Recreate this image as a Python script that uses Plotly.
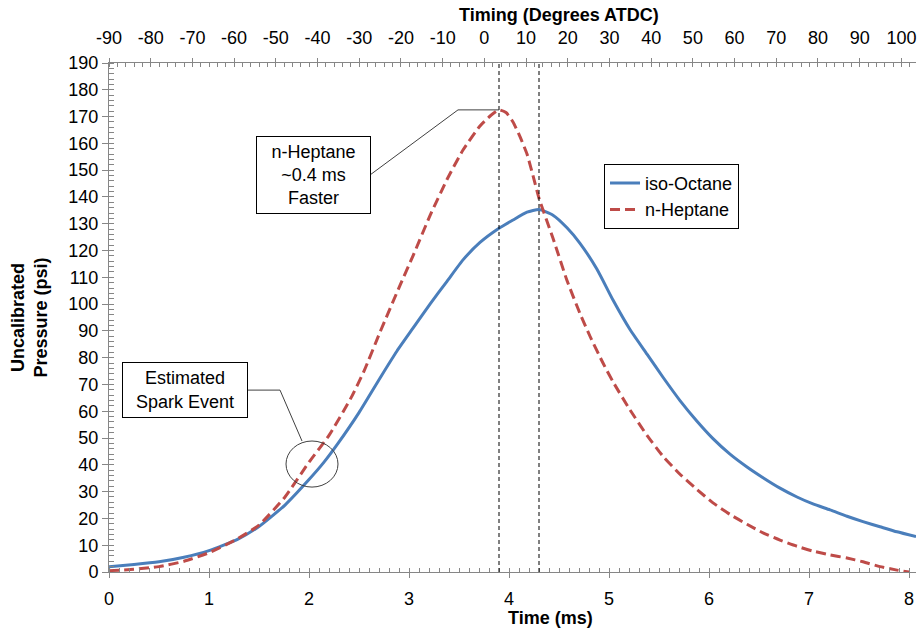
import numpy as np
import plotly.graph_objects as go

# ---------------- data ----------------
time_iso = [0.0, 0.25, 0.5, 0.75, 1.0, 1.29, 1.5, 1.76, 2.0, 2.15, 2.29, 2.5, 2.72, 2.88,
            3.04, 3.21, 3.38, 3.54, 3.71, 3.9, 4.04, 4.18, 4.3, 4.44, 4.58, 4.71,
            4.88, 5.04, 5.21, 5.38, 5.54, 5.71, 5.88, 6.04, 6.21, 6.38, 6.54, 6.71,
            6.88, 7.04, 7.21, 7.38, 7.54, 7.71, 7.88, 8.07]
p_iso = [2.0, 2.8, 3.8, 5.5, 8.0, 12.3, 17.0, 25.0, 34.5, 41.0, 48.0, 59.5, 73.0, 82.5,
         91.0, 100.0, 108.5, 116.5, 123.0, 128.3, 131.4, 134.3, 135.3, 133.2, 128.5, 122.7,
         113.0, 101.5, 90.5, 81.3, 72.7, 64.0, 56.3, 49.8, 44.0, 39.2, 35.2, 31.3,
         28.0, 25.4, 23.2, 20.8, 18.8, 16.9, 15.0, 13.2]

time_hep = [0.0, 0.25, 0.5, 0.75, 1.0, 1.29, 1.5, 1.76, 2.0, 2.2, 2.42, 2.55, 2.71,
            2.91, 3.04, 3.21, 3.38, 3.54, 3.71, 3.82, 3.9, 3.97, 4.04, 4.11, 4.18, 4.24,
            4.3, 4.44, 4.58, 4.71, 4.81, 4.94, 5.04, 5.21, 5.38, 5.54, 5.71, 5.88, 6.04,
            6.21, 6.38, 6.54, 6.71, 6.88, 7.04, 7.21, 7.38, 7.54, 7.71, 7.88, 8.0]
p_hep = [0.5, 1.0, 2.0, 4.0, 7.2, 12.5, 17.5, 28.0, 41.0, 51.0, 65.0, 75.0, 89.5,
         107.0, 118.0, 133.0, 146.5, 157.5, 166.5, 170.5, 172.5, 171.5, 168.0, 162.5, 156.0, 148.0,
         139.5, 124.6, 108.8, 96.5, 88.0, 78.0, 71.0, 60.5, 51.0, 43.2, 36.5, 30.8, 25.8,
         21.5, 17.8, 14.6, 11.9, 9.6, 7.8, 6.4, 5.2, 3.8, 2.0, 0.7, 0.0]

time_ticks = [0, 1, 2, 3, 4, 5, 6, 7, 8]
pressure_ticks = list(range(0, 191, 10))
timing_ticks = list(range(-90, 101, 10))
timing_labels = [str(v) for v in timing_ticks]

series_names = ["iso-Octane", "n-Heptane"]
note_faster = "n-Heptane<br>~0.4 ms<br>Faster"
note_spark = "Estimated<br>Spark Event"

# ---------------- styling ----------------
BLUE = "#4A7EBB"
RED = "#BE4B48"
AXIS = "#868686"
FONT = "Liberation Sans, Arial, sans-serif"
FS = 18

fig = go.Figure()
fig.add_trace(go.Scatter(x=time_iso, y=p_iso, name=series_names[0], mode="lines",
                         line=dict(color=BLUE, width=3, shape="spline", smoothing=0.5)))
fig.add_trace(go.Scatter(x=time_hep, y=p_hep, name=series_names[1], mode="lines",
                         line=dict(color=RED, width=3, dash="10px,5px",
                                   shape="spline", smoothing=0.5)))

# peak times derived from data
t_peak_hep = time_hep[int(np.argmax(p_hep))]
p_peak_hep = max(p_hep)
t_peak_iso = time_iso[int(np.argmax(p_iso))]

shapes = []
for tp in (t_peak_hep, t_peak_iso):
    shapes.append(dict(type="line", xref="x", yref="y domain", x0=tp, x1=tp, y0=0, y1=1,
                       line=dict(color="black", width=1, dash="4px,3px")))
# callout leader for "faster" note
shapes.append(dict(type="path", xref="x", yref="y",
                   path=f"M 2.61 148.2 L 3.49 {p_peak_hep} L {t_peak_hep} {p_peak_hep}",
                   line=dict(color="#404040", width=1)))
# spark event leader + ellipse
shapes.append(dict(type="path", xref="x", yref="y",
                   path="M 1.38 67.9 L 1.71 67.9 L 1.93 48.9",
                   line=dict(color="#404040", width=1)))
shapes.append(dict(type="circle", xref="x", yref="y", x0=1.77, x1=2.29, y0=31.7, y1=48.9,
                   line=dict(color="#404040", width=1)))

annotations = [
    dict(text=note_faster, xref="x", yref="y", x=2.045, y=148.2, showarrow=False,
         font=dict(size=FS, color="black", family=FONT), bgcolor="white",
         bordercolor="black", borderwidth=1, borderpad=1, width=111, height=74),
    dict(text=note_spark, xref="x", yref="y", x=0.76, y=67.9, showarrow=False,
         font=dict(size=FS, color="black", family=FONT), bgcolor="white",
         bordercolor="black", borderwidth=1, borderpad=1, width=122, height=52),
    dict(text="<b>Timing (Degrees ATDC)</b>", xref="paper", yref="paper", x=0.5576, y=1.094,
         showarrow=False, xanchor="center", yanchor="middle",
         font=dict(size=FS, color="black", family=FONT)),
    dict(text="<b>Time (ms)</b>", xref="paper", yref="paper", x=0.5477, y=-0.0904,
         showarrow=False, xanchor="center", yanchor="middle",
         font=dict(size=FS, color="black", family=FONT)),
    dict(text="<b>Uncalibrated<br>Pressure (psi)</b>", xref="paper", yref="paper",
         x=-0.099, y=0.5, showarrow=False, textangle=-90, xanchor="center", yanchor="middle",
         font=dict(size=FS, color="black", family=FONT)),
]

fig.update_layout(
    width=917, height=630,
    margin=dict(l=109, r=1, t=63, b=58),
    paper_bgcolor="white", plot_bgcolor="white",
    font=dict(family=FONT, size=FS, color="black"),
    hovermode=False,
    showlegend=True,
    legend=dict(x=0.6134, y=0.802, xanchor="left", yanchor="top",
                bgcolor="white", bordercolor="black", borderwidth=1,
                font=dict(size=FS, color="black", family=FONT)),
    xaxis=dict(range=[0, 8.07], tickvals=time_ticks, showgrid=False, zeroline=False,
               showline=True, linecolor=AXIS, linewidth=1,
               ticks="outside", ticklen=5, tickcolor=AXIS, ticklabelstandoff=5,
               minor=dict(dtick=0.1, tick0=0, ticks="inside", ticklen=4, tickcolor=AXIS,
                          showgrid=False)),
    xaxis2=dict(range=[-90, 103.5], overlaying="x", side="top", anchor="y",
                tickvals=timing_ticks, ticktext=timing_labels, showgrid=False, zeroline=False,
                showline=True, linecolor=AXIS, linewidth=1,
                ticks="outside", ticklen=4, tickcolor=AXIS, ticklabelstandoff=7,
                minor=dict(dtick=2, tick0=-90, ticks="inside", ticklen=4, tickcolor=AXIS,
                           showgrid=False)),
    yaxis=dict(range=[0, 190], tickvals=pressure_ticks, showgrid=False, zeroline=False,
               showline=True, linecolor=AXIS, linewidth=1,
               ticks="outside", ticklen=6, tickcolor=AXIS,
               minor=dict(dtick=2, tick0=0, ticks="inside", ticklen=5, tickcolor=AXIS,
                          showgrid=False)),
    shapes=shapes,
    annotations=annotations,
)

# invisible helper so the top timing axis is rendered
fig.add_trace(go.Scatter(x=[timing_ticks[0], timing_ticks[-1]], y=[None, None],
                         xaxis="x2", yaxis="y", showlegend=False, hoverinfo="skip",
                         mode="lines"))

fig.write_html("out.html")
